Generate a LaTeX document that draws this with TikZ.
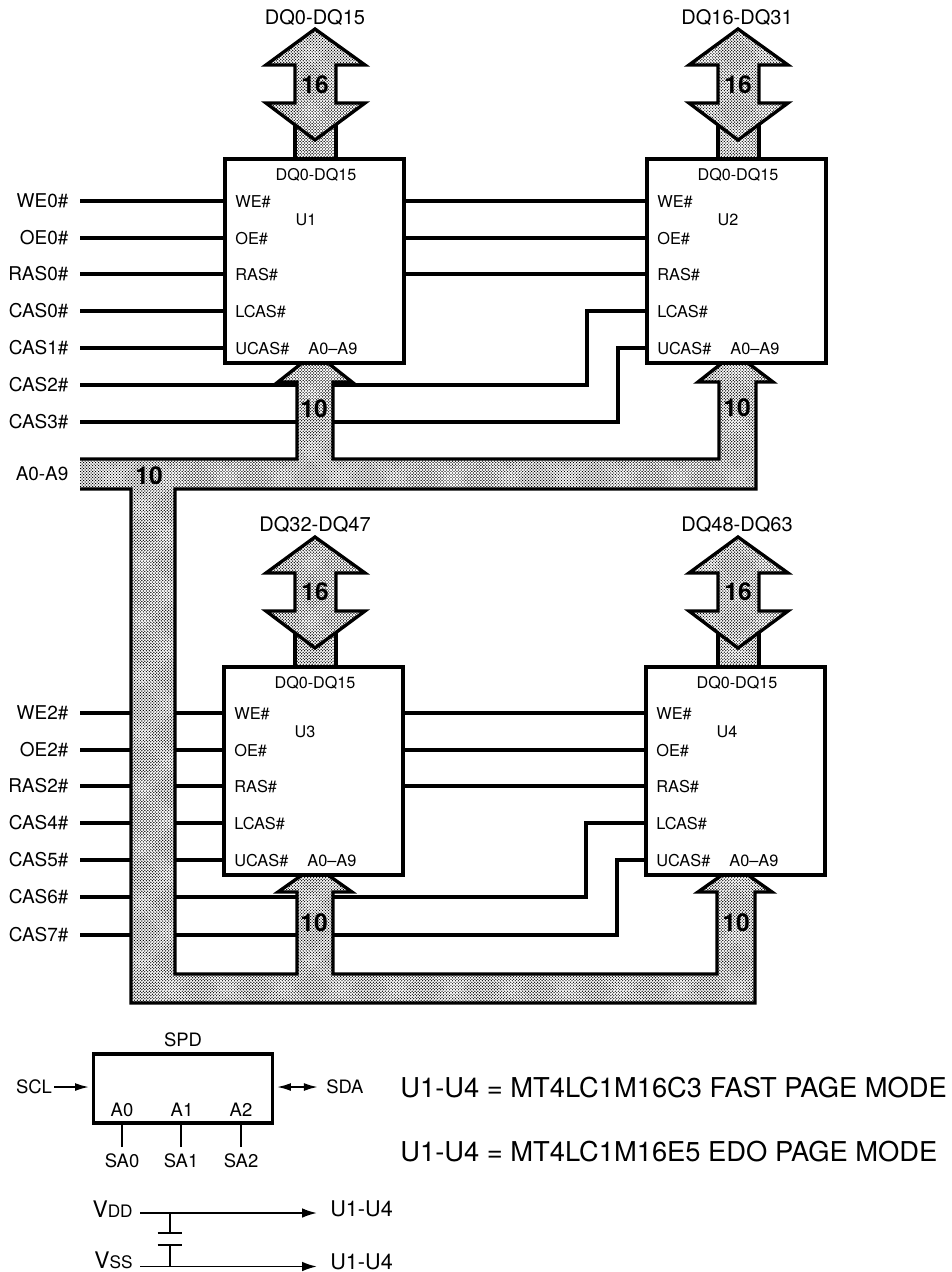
\documentclass[tikz,border=0pt]{standalone}
\usepackage{fontspec}
\setmainfont{TeX Gyre Heros}
\usetikzlibrary{patterns,arrows.meta}
\pgfdeclarepatternformonly{busdots}{\pgfqpoint{-0.5pt}{-0.5pt}}{\pgfqpoint{2.2pt}{2.2pt}}{\pgfqpoint{1.7pt}{1.7pt}}{%
  \pgfpathcircle{\pgfqpoint{0pt}{0pt}}{0.4pt}%
  \pgfpathcircle{\pgfqpoint{0.85pt}{0.85pt}}{0.4pt}%
  \pgfusepath{fill}}
\tikzset{
  chipbox/.style={draw,fill=white,line width=1.9pt,inner sep=0pt,outer sep=0pt,minimum width=3.58cm},
  wire/.style={line width=1.75pt},
  thinwire/.style={line width=1.1pt},
  busline/.style={line width=1.9pt,line join=miter,preaction={fill=white},pattern=busdots},
  siglabel/.style={anchor=east,inner sep=0pt,inner xsep=6.4pt,font=\fontsize{10.8}{12}\selectfont},
  pinlabel/.style={anchor=west,inner sep=0pt,font=\fontsize{9.3}{11}\selectfont},
  boxtitle/.style={inner sep=0pt,font=\fontsize{9.2}{11}\selectfont},
  dqlabel/.style={inner sep=0pt,font=\fontsize{11.4}{13}\selectfont},
  busnum/.style={inner sep=0pt,font=\fontsize{14}{16}\selectfont\bfseries},
  spdlabel/.style={inner sep=0pt,font=\fontsize{10.5}{12}\selectfont},
  partlabel/.style={anchor=west,inner sep=0pt,font=\fontsize{15.55}{17}\selectfont}
}
\begin{document}
\begin{tikzpicture}[x=0.02cm,y=-0.02cm]
	\useasboundingbox (0,0) rectangle (952,1272);
	% signal names on the left
	\node[siglabel] (we0) at (80,201) {WE0\#};
	\node[siglabel] (oe0) at (80,238) {OE0\#};
	\node[siglabel] (ras0) at (80,274) {RAS0\#};
	\node[siglabel] (cas0) at (80,311) {CAS0\#};
	\node[siglabel] (cas1) at (80,348) {CAS1\#};
	\node[siglabel] (cas2) at (80,385) {CAS2\#};
	\node[siglabel] (cas3) at (80,422) {CAS3\#};
	\node[siglabel] at (80,474) {A0-A9};
	\node[siglabel] (we2) at (80,713) {WE2\#};
	\node[siglabel] (oe2) at (80,750) {OE2\#};
	\node[siglabel] (ras2) at (80,786) {RAS2\#};
	\node[siglabel] (cas4) at (80,823) {CAS4\#};
	\node[siglabel] (cas5) at (80,860) {CAS5\#};
	\node[siglabel] (cas6) at (80,897) {CAS6\#};
	\node[siglabel] (cas7) at (80,935) {CAS7\#};
	% chips
	\node[chipbox,minimum height=4.08cm] (u1) at (314.5,261) {};
	\node[chipbox,minimum height=4.08cm] (u2) at (736.5,261) {};
	\node[chipbox,minimum height=4.16cm] (u3) at (313.5,771) {};
	\node[chipbox,minimum height=4.16cm] (u4) at (735.5,771) {};
	\coordinate (bend2) at (587,311);
	\coordinate (bend3) at (618,348);
	\coordinate (bend6) at (586,823);
	\coordinate (bend7) at (617,860);
	% wires run behind the buses
	\draw[wire] (we0.east)--(we0.east -| u1.west);
	\draw[wire] (oe0.east)--(oe0.east -| u1.west);
	\draw[wire] (ras0.east)--(ras0.east -| u1.west);
	\draw[wire] (cas0.east)--(cas0.east -| u1.west);
	\draw[wire] (cas1.east)--(cas1.east -| u1.west);
	\draw[wire] (we0.east -| u1.east)--(we0.east -| u2.west);
	\draw[wire] (oe0.east -| u1.east)--(oe0.east -| u2.west);
	\draw[wire] (ras0.east -| u1.east)--(ras0.east -| u2.west);
	\draw[wire] (cas2.east) -| (bend2)--(bend2 -| u2.west);
	\draw[wire] (cas3.east) -| (bend3)--(bend3 -| u2.west);
	\draw[wire] (we2.east)--(we2.east -| u3.west);
	\draw[wire] (oe2.east)--(oe2.east -| u3.west);
	\draw[wire] (ras2.east)--(ras2.east -| u3.west);
	\draw[wire] (cas4.east)--(cas4.east -| u3.west);
	\draw[wire] (cas5.east)--(cas5.east -| u3.west);
	\draw[wire] (we2.east -| u3.east)--(we2.east -| u4.west);
	\draw[wire] (oe2.east -| u3.east)--(oe2.east -| u4.west);
	\draw[wire] (ras2.east -| u3.east)--(ras2.east -| u4.west);
	\draw[wire] (cas6.east) -| (bend6)--(bend6 -| u4.west);
	\draw[wire] (cas7.east) -| (bend7)--(bend7 -| u4.west);
	% address bus
	\draw[busline] (80,489)--(131,489)--(131,1003)--(755,1003)--(755,892)--(772,892)--(748,875)--(722,875)--(698,892)--(717,892)--(717,974)--(333,974)--(333,892)--(352,892)--(328,875)--(302,875)--(278,892)--(297,892)--(297,974)--(175,974)--(175,489)--(756,489)--(756,382)--(773,382)--(748,363)--(722,363)--(698,382)--(719,382)--(719,459)--(333,459)--(333,382)--(352,382)--(328,363)--(302,363)--(278,382)--(297,382)--(297,459)--(80,459);
	% data buses
	\draw[busline] (295,120) rectangle (336,159);
	\draw[busline] (315,29)--(365,65)--(336,65)--(336,103)--(365,103)--(315,140)--(266,103)--(295,103)--(295,65)--(266,65)--cycle;
	\draw[busline] (718,120) rectangle (759,159);
	\draw[busline] (738,29)--(788,65)--(759,65)--(759,103)--(788,103)--(738,140)--(689,103)--(718,103)--(718,65)--(689,65)--cycle;
	\draw[busline] (295,628) rectangle (336,667);
	\draw[busline] (315,537)--(365,573)--(336,573)--(336,611)--(365,611)--(315,648)--(266,611)--(295,611)--(295,573)--(266,573)--cycle;
	\draw[busline] (718,628) rectangle (759,667);
	\draw[busline] (738,537)--(788,573)--(759,573)--(759,611)--(788,611)--(738,648)--(689,611)--(718,611)--(718,573)--(689,573)--cycle;
	\node[chipbox,minimum height=4.08cm] at (u1) {};
	\node[chipbox,minimum height=4.08cm] at (u2) {};
	\node[chipbox,minimum height=4.16cm] at (u3) {};
	\node[chipbox,minimum height=4.16cm] at (u4) {};
	% bus widths
	\node[busnum] at (315,85) {16};
	\node[busnum] at (738,85) {16};
	\node[busnum] at (315,592) {16};
	\node[busnum] at (738,592) {16};
	\node[busnum] at (314,409) {10};
	\node[busnum] at (737,408) {10};
	\node[busnum] at (149,476) {10};
	\node[busnum] at (314,923) {10};
	\node[busnum] at (736,923) {10};
	% data bus names
	\node[dqlabel] at (315,18) {DQ0-DQ15};
	\node[dqlabel] at (737,18) {DQ16-DQ31};
	\node[dqlabel] at (315,525) {DQ32-DQ47};
	\node[dqlabel] at (737,525) {DQ48-DQ63};
	% inside U1
	\node[boxtitle] at (316,175) {DQ0-DQ15};
	\node[boxtitle] at (306,220) {U1};
	\node[pinlabel] at (235,202) {WE\#};
	\node[pinlabel] at (235,239) {OE\#};
	\node[pinlabel] at (235,275) {RAS\#};
	\node[pinlabel] at (235,312) {LCAS\#};
	\node[pinlabel] at (235,349) {UCAS\#};
	\node[pinlabel] at (308,349) {A0--A9};
	% inside U2
	\node[boxtitle] at (738,175) {DQ0-DQ15};
	\node[boxtitle] at (728,220) {U2};
	\node[pinlabel] at (657,202) {WE\#};
	\node[pinlabel] at (657,239) {OE\#};
	\node[pinlabel] at (657,275) {RAS\#};
	\node[pinlabel] at (657,312) {LCAS\#};
	\node[pinlabel] at (657,349) {UCAS\#};
	\node[pinlabel] at (730,349) {A0--A9};
	% inside U3
	\node[boxtitle] at (315,683) {DQ0-DQ15};
	\node[boxtitle] at (305,732) {U3};
	\node[pinlabel] at (234,714) {WE\#};
	\node[pinlabel] at (234,751) {OE\#};
	\node[pinlabel] at (234,787) {RAS\#};
	\node[pinlabel] at (234,824) {LCAS\#};
	\node[pinlabel] at (234,861) {UCAS\#};
	\node[pinlabel] at (307,861) {A0--A9};
	% inside U4
	\node[boxtitle] at (737,683) {DQ0-DQ15};
	\node[boxtitle] at (727,732) {U4};
	\node[pinlabel] at (656,714) {WE\#};
	\node[pinlabel] at (656,751) {OE\#};
	\node[pinlabel] at (656,787) {RAS\#};
	\node[pinlabel] at (656,824) {LCAS\#};
	\node[pinlabel] at (656,861) {UCAS\#};
	\node[pinlabel] at (729,861) {A0--A9};
	% SPD
	\node[chipbox,minimum height=1.38cm] (spd) at (183,1088.5) {};
	\node[spdlabel] at (183,1040) {SPD};
	\node[spdlabel] at (122,1110) {A0};
	\node[spdlabel] at (182,1110) {A1};
	\node[spdlabel] at (241,1110) {A2};
	\node[spdlabel,anchor=east,inner xsep=1pt] (scl) at (54,1087) {SCL};
	\node[spdlabel,anchor=west,inner xsep=4.5pt] (sda) at (318,1087) {SDA};
	\draw[thinwire,-{Latex[length=8pt,width=4.5pt]},shorten >=2.5pt] (scl.east)--(scl.east -| spd.west);
	\draw[thinwire,{Latex[length=8pt,width=4.5pt]}-{Latex[length=8pt,width=4.5pt]},shorten <=2.5pt] (sda.west -| spd.east)--(sda.west);
	\node[spdlabel,anchor=north,inner ysep=3.4pt] (sa0) at (122,1147) {SA0};
	\node[spdlabel,anchor=north,inner ysep=3.4pt] (sa1) at (181,1147) {SA1};
	\node[spdlabel,anchor=north,inner ysep=3.4pt] (sa2) at (241,1147) {SA2};
	\draw[thinwire] (sa0.north)--(sa0.north |- spd.south);
	\draw[thinwire] (sa1.north)--(sa1.north |- spd.south);
	\draw[thinwire] (sa2.north)--(sa2.north |- spd.south);
	% part numbers
	\node[partlabel] at (400,1088) {U1-U4 = MT4LC1M16C3 FAST PAGE MODE};
	\node[partlabel] at (400,1152) {U1-U4 = MT4LC1M16E5 EDO PAGE MODE};
	% supply
	\node[anchor=east,inner sep=0pt,font=\fontsize{13}{13}\selectfont] at (133,1209) {V{\fontsize{9.8}{10}\selectfont DD}};
	\node[anchor=east,inner sep=0pt,font=\fontsize{13}{13}\selectfont] at (133,1260) {V{\fontsize{9.8}{10}\selectfont SS}};
	\node[anchor=west,inner sep=0pt,font=\fontsize{12.3}{13}\selectfont] at (330,1209) {U1-U4};
	\node[anchor=west,inner sep=0pt,font=\fontsize{12.3}{13}\selectfont] at (330,1262) {U1-U4};
	\coordinate (vddin) at (140,1213);
	\coordinate (vddout) at (317,1213);
	\coordinate (vssin) at (140,1266.5);
	\coordinate (vssout) at (317,1266.5);
	\coordinate (capa) at (170,1233);
	\coordinate (capb) at (170,1245);
	\draw[thinwire,-{Latex[length=8.5pt,width=5.5pt]}] (vddin)--(vddout);
	\draw[thinwire,-{Latex[length=8.5pt,width=5.5pt]}] (vssin)--(vssout);
	\draw[thinwire] (capa)--(capa |- vddin);
	\draw[thinwire] (capb)--(capb |- vssin);
	\draw[thinwire] ([xshift=-7pt]capa)--([xshift=7pt]capa);
	\draw[thinwire] ([xshift=-7pt]capb)--([xshift=7pt]capb);
\end{tikzpicture}
\end{document}
